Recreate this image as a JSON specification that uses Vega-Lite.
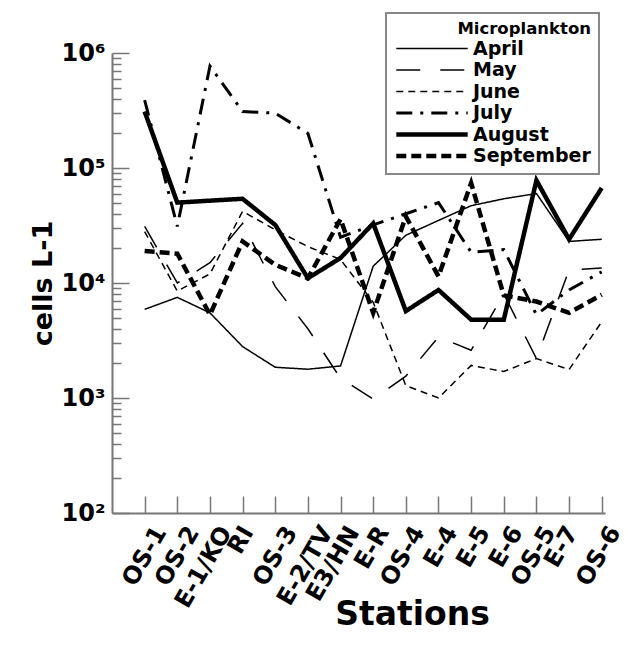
{
  "$schema": "https://vega.github.io/schema/vega-lite/v6.json",
  "width": 493,
  "height": 460,
  "autosize": {"type": "none"},
  "padding": {"left": 112, "top": 53, "right": 21, "bottom": 133},
  "background": "white",
  "config": {
    "view": {"stroke": null},
    "font": "DejaVu Sans",
    "legend": {
      "symbolType": "stroke", "symbolSize": 5100, "symbolStrokeColor": "black",
      "labelFontSize": 19, "labelFontWeight": "bold", "labelColor": "black", "labelOffset": 3,
      "titleFontSize": 16.5, "titleFontWeight": "bold", "titleColor": "black", "titleAnchor": "end", "titlePadding": 2,
      "padding": 8, "strokeColor": "#888888", "strokeWidth": 2, "fillColor": "white", "rowPadding": 2.5, "clipHeight": 18
    }
  },
  "data": {"values": [
    {"s":1,"month":"April","v":5900},{"s":2,"month":"April","v":7500},{"s":3,"month":"April","v":5500},{"s":4,"month":"April","v":2800},{"s":5,"month":"April","v":1850},{"s":6,"month":"April","v":1780},{"s":7,"month":"April","v":1900},{"s":8,"month":"April","v":14000},{"s":9,"month":"April","v":26000},{"s":10,"month":"April","v":35000},{"s":11,"month":"April","v":47000},{"s":12,"month":"April","v":54000},{"s":13,"month":"April","v":60000},{"s":14,"month":"April","v":23000},{"s":15,"month":"April","v":24000},
    {"s":1,"month":"May","v":31000},{"s":2,"month":"May","v":10000},{"s":3,"month":"May","v":15000},{"s":4,"month":"May","v":33000},{"s":5,"month":"May","v":9300},{"s":6,"month":"May","v":4000},{"s":7,"month":"May","v":1480},{"s":8,"month":"May","v":980},{"s":9,"month":"May","v":1550},{"s":10,"month":"May","v":3400},{"s":11,"month":"May","v":2600},{"s":12,"month":"May","v":8000},{"s":13,"month":"May","v":2200},{"s":14,"month":"May","v":13000},{"s":15,"month":"May","v":13500},
    {"s":1,"month":"June","v":28000},{"s":2,"month":"June","v":8500},{"s":3,"month":"June","v":12000},{"s":4,"month":"June","v":42000},{"s":5,"month":"June","v":29000},{"s":6,"month":"June","v":20700},{"s":7,"month":"June","v":16000},{"s":8,"month":"June","v":6800},{"s":9,"month":"June","v":1280},{"s":10,"month":"June","v":1000},{"s":11,"month":"June","v":1920},{"s":12,"month":"June","v":1700},{"s":13,"month":"June","v":2200},{"s":14,"month":"June","v":1770},{"s":15,"month":"June","v":4600},
    {"s":1,"month":"July","v":390000},{"s":2,"month":"July","v":31000},{"s":3,"month":"July","v":770000},{"s":4,"month":"July","v":310000},{"s":5,"month":"July","v":300000},{"s":6,"month":"July","v":200000},{"s":7,"month":"July","v":25000},{"s":8,"month":"July","v":32000},{"s":9,"month":"July","v":40000},{"s":10,"month":"July","v":50000},{"s":11,"month":"July","v":18500},{"s":12,"month":"July","v":19500},{"s":13,"month":"July","v":5300},{"s":14,"month":"July","v":8700},{"s":15,"month":"July","v":12500},
    {"s":1,"month":"August","v":310000},{"s":2,"month":"August","v":50000},{"s":3,"month":"August","v":52000},{"s":4,"month":"August","v":54000},{"s":5,"month":"August","v":32000},{"s":6,"month":"August","v":11000},{"s":7,"month":"August","v":16500},{"s":8,"month":"August","v":33000},{"s":9,"month":"August","v":5700},{"s":10,"month":"August","v":8700},{"s":11,"month":"August","v":4800},{"s":12,"month":"August","v":4800},{"s":13,"month":"August","v":78000},{"s":14,"month":"August","v":24000},{"s":15,"month":"August","v":67000},
    {"s":1,"month":"September","v":19000},{"s":2,"month":"September","v":18000},{"s":3,"month":"September","v":5300},{"s":4,"month":"September","v":23000},{"s":5,"month":"September","v":14400},{"s":6,"month":"September","v":11000},{"s":7,"month":"September","v":36000},{"s":8,"month":"September","v":5500},{"s":9,"month":"September","v":38000},{"s":10,"month":"September","v":11400},{"s":11,"month":"September","v":74000},{"s":12,"month":"September","v":7800},{"s":13,"month":"September","v":6900},{"s":14,"month":"September","v":5500},{"s":15,"month":"September","v":7900}
  ]},
  "mark": {"type": "line", "color": "black", "strokeCap": "butt"},
  "encoding": {
    "x": {
      "field": "s", "type": "quantitative",
      "scale": {"domain": [0, 15.1], "nice": false, "zero": false},
      "axis": {
        "values": [1,2,3,4,5,6,7,8,9,10,11,12,13,14,15],
        "title": "Stations", "titleFontSize": 33, "titleFontWeight": "bold", "titleColor": "black",
        "titleX": 300, "titleY": 111, "titleBaseline": "alphabetic",
        "labelExpr": "['','OS-1','OS-2','E-1/KO','RI','OS-3','E-2/TV','E3/HN','E-R','OS-4','E-4','E-5','E-6','OS-5','E-7','OS-6'][datum.value]",
        "labelAngle": -60, "labelFontSize": 24, "labelFontWeight": "bold", "labelColor": "black",
        "labelPadding": 32,
        "labelOffset": {"condition": [
          {"test": "datum.value == 4", "value": 5},
          {"test": "datum.value == 14", "value": 3},
          {"test": "datum.value == 8", "value": 10},
          {"test": "datum.value == 6", "value": 19},
          {"test": "datum.value <= 3 || datum.value == 5", "value": 16}
        ], "value": 13},
        "labelOverlap": false, "labelBound": false, "labelFlush": false,
        "tickSize": -17, "tickColor": "#777777", "tickWidth": 1.5,
        "domainColor": "#777777", "domainWidth": 2, "grid": false
      }
    },
    "y": {
      "field": "v", "type": "quantitative",
      "scale": {"type": "log", "domain": [100, 1000000], "nice": false},
      "axis": {
        "values": [100,200,300,400,500,600,700,800,900,1000,2000,3000,4000,5000,6000,7000,8000,9000,10000,20000,30000,40000,50000,60000,70000,80000,90000,100000,200000,300000,400000,500000,600000,700000,800000,900000,1000000],
        "title": "cells L-1", "titleFontSize": 27, "titleFontWeight": "bold", "titleColor": "black", "titlePadding": 4,
        "labelExpr": "datum.value == 100 ? '10²' : datum.value == 1000 ? '10³' : datum.value == 10000 ? '10⁴' : datum.value == 100000 ? '10⁵' : datum.value == 1000000 ? '10⁶' : ''",
        "labelFontSize": 24, "labelFontWeight": "bold", "labelColor": "black", "labelPadding": 24,
        "labelOverlap": false, "labelBound": false, "labelFlush": false,
        "tickSize": {"condition": {"test": "indexof([100,1000,10000,100000,1000000], datum.value) >= 0", "value": -17}, "value": -9},
        "tickColor": "#777777", "tickWidth": 1.5,
        "domainColor": "#777777", "domainWidth": 2, "grid": false
      }
    },
    "strokeDash": {
      "field": "month", "type": "ordinal",
      "scale": {"type": "ordinal", "domain": ["April","May","June","July","August","September"], "range": [[1,0],[24,20],[7,5],[16,8,3,8],[1,0],[10,5]]},
      "legend": {"title": "Microplankton", "orient": "none", "legendX": 274, "legendY": -40}
    },
    "strokeWidth": {
      "field": "month", "type": "ordinal",
      "scale": {"type": "ordinal", "domain": ["April","May","June","July","August","September"], "range": [1.5,1.5,1.5,3,4.5,4.5]},
      "legend": {"title": "Microplankton", "orient": "none", "legendX": 274, "legendY": -40}
    }
  }
}
